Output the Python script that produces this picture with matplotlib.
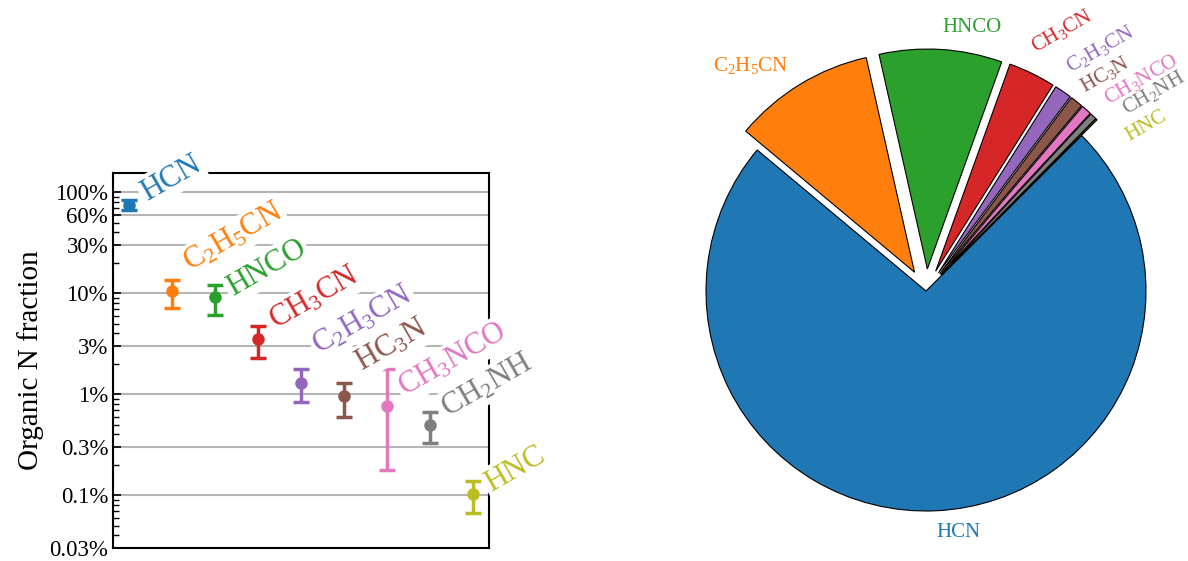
import matplotlib.pyplot as plt
import numpy as np
from matplotlib.ticker import LogLocator, FixedLocator, NullFormatter

plt.rcParams['font.family'] = ['Liberation Serif', 'DejaVu Serif']
plt.rcParams['mathtext.fontset'] = 'custom'
plt.rcParams['mathtext.rm'] = 'Liberation Serif'
plt.rcParams['mathtext.it'] = 'Liberation Serif:italic'
plt.rcParams['mathtext.bf'] = 'Liberation Serif:bold'

species = ['HCN', r'$\mathrm{C_2H_5CN}$', 'HNCO', r'$\mathrm{CH_3CN}$',
           r'$\mathrm{C_2H_3CN}$', r'$\mathrm{HC_3N}$', r'$\mathrm{CH_3NCO}$',
           r'$\mathrm{CH_2NH}$', 'HNC']
# organic N fraction per species, with upper / lower bounds
frac = [0.743, 0.105, 0.091, 0.035, 0.0128, 0.0095, 0.0076, 0.0049, 0.00102]
frac_hi = [0.83, 0.134, 0.12, 0.047, 0.0177, 0.0128, 0.0177, 0.0066, 0.00137]
frac_lo = [0.67, 0.071, 0.061, 0.0227, 0.0083, 0.0060, 0.00177, 0.0033, 0.00066]

yticks = [1.0, 0.6, 0.3, 0.1, 0.03, 0.01, 0.003, 0.001, 0.0003]
yticklabels = ['100%', '60%', '30%', '10%', '3%', '1%', '0.3%', '0.1%', '0.03%']

colors = plt.cm.tab10.colors[:len(species)]

fig = plt.figure(figsize=(11.88, 5.61), dpi=100)

# --- left: fractions with error bars on a log axis ---
ax = fig.add_axes([113 / 1188, 13 / 561, 376 / 1188, 375 / 561])
x = np.arange(len(species))
for i in range(len(species)):
    err = [[frac[i] - frac_lo[i]], [frac_hi[i] - frac[i]]]
    ax.errorbar(x[i], frac[i], yerr=err, fmt='o', color=colors[i], ms=8,
                elinewidth=2.5, capsize=6, capthick=2.5, zorder=3)

# nudge each name so the rotated labels don't collide
label_dy = [3, 14, 0.7, 7, 21, 18, 7, 6, 1.5]
for i, name in enumerate(species):
    ax.annotate(name, (x[i], frac[i]), xytext=(13, label_dy[i]),
                textcoords='offset points', rotation=30, rotation_mode='anchor',
                ha='left', va='baseline', fontsize=22, color=colors[i],
                bbox=dict(fc='white', ec='none', pad=2),
                zorder=5, annotation_clip=False)

ax.set_yscale('log')
ax.set_ylim(3e-4, 1.55)
ax.set_xlim(-0.37, 8.37)
ax.yaxis.set_major_locator(FixedLocator(yticks))
ax.set_yticklabels(yticklabels, fontsize=16.5)
ax.yaxis.set_minor_locator(LogLocator(subs=np.arange(2, 10)))
ax.yaxis.set_minor_formatter(NullFormatter())
ax.set_xticks([])
ax.tick_params(which='both', direction='in', right=False, top=False)
ax.tick_params(which='major', length=6, width=1.2)
ax.tick_params(which='minor', length=4, width=1)
ax.yaxis.grid(True, which='major', color='#b5b5b5', lw=1.5, zorder=0)
ax.set_axisbelow(True)
for sp in ax.spines.values():
    sp.set_linewidth(1.5)
ax.set_ylabel('Organic N fraction', fontsize=21)

# --- right: pie of the same fractions ---
pax = fig.add_axes([640 / 1188, -16 / 561, 572 / 1188, 572 / 561])
explode = [0] + [0.1] * (len(species) - 1)
wedges, texts = pax.pie(frac, labels=species, colors=colors, startangle=45,
                        counterclock=False, explode=explode, labeldistance=1.1,
                        wedgeprops=dict(edgecolor='black', linewidth=0.8),
                        textprops=dict(fontsize=15))
for t, c in zip(texts, colors):
    t.set_color(c)

# small slices: fan the labels out and tilt them
small_pos = {3: (0.618, 1.182), 4: (0.795, 1.10), 5: (0.814, 0.986),
             6: (0.977, 0.964), 7: (1.032, 0.90), 8: (1.0, 0.75)}
for i, pos in small_pos.items():
    texts[i].set_position(pos)
    texts[i].set_rotation(30)
    texts[i].set_ha('center')
    texts[i].set_va('center')

pax.set_xlim(-1.3, 1.3)
pax.set_ylim(-1.3, 1.3)
pax.set_aspect('equal')

fig.savefig('out.png', dpi=100)
